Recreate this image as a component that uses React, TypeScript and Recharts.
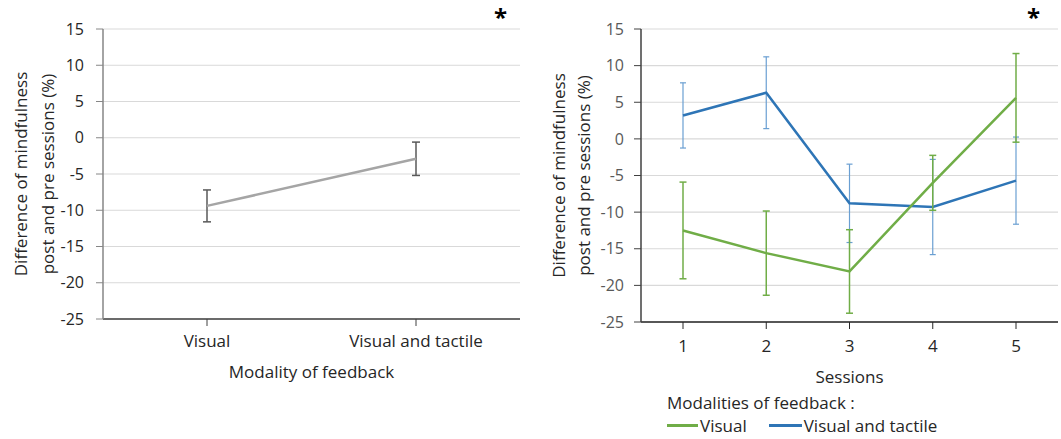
import React from "react"
import { LineChart, Line, XAxis, YAxis, CartesianGrid, ErrorBar, Label } from "recharts"

// left panel: mean difference per modality
const modalities = ["Visual", "Visual and tactile"]
const modalityMeans = [-9.4, -2.9]
const modalityErrors = [2.2, 2.3]

// right panel: per session
const sessions = ["1", "2", "3", "4", "5"]
const visualMeans = [-12.5, -15.6, -18.1, -6.0, 5.6]
const visualErrors = [6.6, 5.75, 5.7, 3.75, 6.05]
const tactileMeans = [3.2, 6.3, -8.8, -9.3, -5.7]
const tactileErrors = [4.45, 4.9, 5.35, 6.5, 5.95]

const yTicks = [-25, -20, -15, -10, -5, 0, 5, 10, 15]

const FONT = "'Open Sans', 'Noto Sans', sans-serif"
const GREEN = "#70AD47"
const BLUE = "#2E75B6"

const modalityData = modalities.map((m, i) => ({
  name: m,
  mean: modalityMeans[i],
  err: modalityErrors[i],
}))

const sessionData = sessions.map((s, i) => ({
  name: s,
  visual: visualMeans[i],
  visualErr: visualErrors[i],
  tactile: tactileMeans[i],
  tactileErr: tactileErrors[i],
}))

// two-line rotated y title, x1/x2 are the line centres inside the chart
const yTitle = (x1: number, x2: number, fill: string) => (props: any) => {
  const vb = props.viewBox || {}
  const cy = vb.y + vb.height / 2
  return (
    <g fontFamily={FONT} fontSize={17} fill={fill}>
      <text x={x1} y={cy} transform={`rotate(-90, ${x1}, ${cy})`} textAnchor="middle" dominantBaseline="central">
        Difference of mindfulness
      </text>
      <text x={x2} y={cy} transform={`rotate(-90, ${x2}, ${cy})`} textAnchor="middle" dominantBaseline="central">
        post and pre sessions (%)
      </text>
    </g>
  )
}

const xTitle = (text: string, dy: number) => (props: any) => {
  const vb = props.viewBox || {}
  return (
    <text
      x={vb.x + vb.width / 2}
      y={vb.y + dy}
      textAnchor="middle"
      fontFamily={FONT}
      fontSize={17}
      fill="#262626"
    >
      {text}
    </text>
  )
}

export default function App() {
  return (
    <div style={{ position: "fixed", left: 0, top: 0, width: 1061, height: 439, background: "#fff", fontFamily: FONT }}>
      {/* left chart */}
      <div style={{ position: "absolute", left: 0, top: 0 }}>
        <LineChart width={530} height={439} data={modalityData} margin={{ top: 29, right: 10, bottom: 60, left: 43 }}>
          <CartesianGrid horizontal vertical={false} stroke="#d9d9d9" strokeWidth={1.2} />
          <XAxis
            dataKey="name"
            height={60}
            padding={{ left: 104, right: 104 }}
            axisLine={{ stroke: "#404040", strokeWidth: 1.5 }}
            tickLine={{ stroke: "#404040" }}
            tickSize={7}
            tickMargin={9}
            tick={{ fill: "#262626", fontSize: 17, fontFamily: FONT }}
          >
            <Label content={xTitle("Modality of feedback", 59)} />
          </XAxis>
          <YAxis
            domain={[-25, 15]}
            ticks={yTicks}
            width={60}
            axisLine={{ stroke: "#868686", strokeWidth: 1.5 }}
            tickLine={{ stroke: "#868686" }}
            tickSize={7}
            tickMargin={12}
            tick={{ fill: "#262626", fontSize: 16, fontFamily: FONT }}
          >
            <Label content={yTitle(20, 47, "#262626")} />
          </YAxis>
          <Line
            type="linear"
            dataKey="mean"
            stroke="#A5A5A5"
            strokeWidth={2.5}
            dot={false}
            isAnimationActive={false}
          >
            <ErrorBar dataKey="err" width={4} stroke="#595959" strokeWidth={1.5} direction="y" isAnimationActive={false} />
          </Line>
        </LineChart>
      </div>

      {/* right chart */}
      <div style={{ position: "absolute", left: 530, top: 0 }}>
        <LineChart width={531} height={439} data={sessionData} margin={{ top: 29, right: 3, bottom: 57, left: 51 }}>
          <CartesianGrid horizontal vertical={false} stroke="#d9d9d9" strokeWidth={1.2} />
          <XAxis
            dataKey="name"
            height={60}
            padding={{ left: 42, right: 42 }}
            axisLine={{ stroke: "#262626", strokeWidth: 1.5 }}
            tickLine={{ stroke: "#262626" }}
            tickSize={7}
            tickMargin={11}
            tick={{ fill: "#262626", fontSize: 17, fontFamily: FONT }}
          >
            <Label content={xTitle("Sessions", 61)} />
          </XAxis>
          <YAxis
            domain={[-25, 15]}
            ticks={yTicks}
            width={60}
            axisLine={{ stroke: "#404040", strokeWidth: 1.5 }}
            tickLine={{ stroke: "#404040" }}
            tickSize={7}
            tickMargin={10}
            tick={{ fill: "#595959", fontSize: 16, fontFamily: FONT }}
          >
            <Label content={yTitle(28, 53, "#262626")} />
          </YAxis>
          <Line
            type="linear"
            dataKey="tactile"
            stroke={BLUE}
            strokeWidth={2.5}
            dot={false}
            isAnimationActive={false}
          >
            <ErrorBar dataKey="tactileErr" width={3} stroke="#6A9FD2" strokeWidth={1.2} direction="y" isAnimationActive={false} />
          </Line>
          <Line
            type="linear"
            dataKey="visual"
            stroke={GREEN}
            strokeWidth={2.5}
            dot={false}
            isAnimationActive={false}
          >
            <ErrorBar dataKey="visualErr" width={3.5} stroke={GREEN} strokeWidth={1.5} direction="y" isAnimationActive={false} />
          </Line>
        </LineChart>
      </div>

      {/* legend of right chart */}
      <div style={{ position: "absolute", left: 667, top: 391, fontSize: 17, color: "#262626", lineHeight: "23px" }}>
        <div>Modalities of feedback :</div>
        <div style={{ display: "flex", alignItems: "center" }}>
          <span style={{ display: "inline-block", width: 31, height: 2.5, background: GREEN, marginRight: 2 }} />
          <span>Visual</span>
          <span style={{ display: "inline-block", width: 33, height: 2.5, background: BLUE, marginLeft: 22, marginRight: 2 }} />
          <span>Visual and tactile</span>
        </div>
      </div>

      {/* significance marks */}
      <div style={{ position: "absolute", left: 494, top: 0, fontSize: 24, fontWeight: 700, color: "#000" }}>*</div>
      <div style={{ position: "absolute", left: 1027, top: 0, fontSize: 24, fontWeight: 700, color: "#000" }}>*</div>
    </div>
  )
}
